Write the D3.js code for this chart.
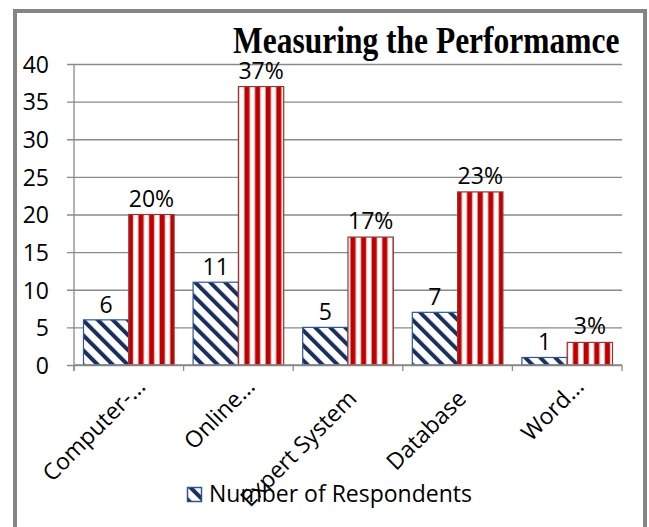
<!DOCTYPE html>
<html>
<head>
<meta charset="utf-8">
<script src="https://cdn.jsdelivr.net/npm/d3@7"></script>
<style>
  body { margin: 0; background: #fff; }
  svg { display: block; }
</style>
</head>
<body>
<script>
const chartTitle = "Measuring the Performamce";
const categories = ["Computer-...", "Online...", "Expert System", "Database", "Word..."];
const respondents = [6, 11, 5, 7, 1];
const percentages = [20, 37, 17, 23, 3];
const percentLabels = ["20%", "37%", "17%", "23%", "3%"];
const yTicks = [0, 5, 10, 15, 20, 25, 30, 35, 40];
const legendLabel = "Number of Respondents";

const w = 649;
const h = 527;
const plot = { left: 74, right: 622, top: 64, bottom: 365 };
const font = "'Open Sans', sans-serif";
const fs = 23;

const svg = d3.select("body").append("svg").attr("width", w).attr("height", h);

// fill patterns
const defs = svg.append("defs");
const blue = defs.append("pattern")
  .attr("id", "blueStripe")
  .attr("patternUnits", "userSpaceOnUse")
  .attr("width", 10.6).attr("height", 10.6)
  .attr("patternTransform", "rotate(-45)");
blue.append("rect").attr("width", 10.6).attr("height", 10.6).attr("fill", "#fff");
blue.append("rect").attr("x", 0).attr("width", 4).attr("height", 10.6).attr("fill", "#1b2f5e");

const red = defs.append("pattern")
  .attr("id", "redStripe")
  .attr("patternUnits", "userSpaceOnUse")
  .attr("width", 10.6).attr("height", 10);
red.append("rect").attr("width", 10.6).attr("height", 10).attr("fill", "#fff");
red.append("rect").attr("x", 0).attr("width", 6.4).attr("height", 10).attr("fill", "#f0b0b0");
red.append("rect").attr("x", 0.8).attr("width", 4.8).attr("height", 10).attr("fill", "#c00000");

// outer frame
svg.append("rect")
  .attr("x", 15).attr("y", 11)
  .attr("width", 630).attr("height", 540)
  .attr("fill", "#fff")
  .attr("stroke", "#858585")
  .attr("stroke-width", 4);

const x0 = d3.scaleBand().domain(categories).range([plot.left, plot.right]);
const x1 = d3.scaleBand().domain(["n", "p"]).range([9.5, x0.bandwidth() - 9.5]);
const y = d3.scaleLinear().domain([0, 40]).range([plot.bottom, plot.top]);

// gridlines (with the small tick left of the axis)
const grid = svg.append("g")
  .attr("transform", `translate(${plot.right},0)`)
  .call(d3.axisLeft(y).tickValues(yTicks).tickSize(plot.right - plot.left + 7).tickFormat(""));
grid.select(".domain").remove();
grid.selectAll("line").attr("stroke", "#8a8a8a").attr("stroke-width", 1.3);

// y labels
const yAxis = svg.append("g")
  .attr("transform", `translate(${plot.left},0)`)
  .call(d3.axisLeft(y).tickValues(yTicks).tickSize(0).tickPadding(25));
yAxis.select(".domain").remove();
yAxis.selectAll("text")
  .attr("font-family", font)
  .attr("font-size", fs)
  .attr("dy", "0.36em")
  .attr("fill", "#000");

// vertical axis line
svg.append("line")
  .attr("x1", plot.left).attr("x2", plot.left)
  .attr("y1", y(40)).attr("y2", plot.bottom + 6)
  .attr("stroke", "#8a8a8a").attr("stroke-width", 1.3);

// category tick marks
const bounds = categories.map((c) => x0(c)).concat([plot.right]);
svg.append("g").selectAll("line")
  .data(bounds)
  .enter().append("line")
  .attr("x1", (d) => d).attr("x2", (d) => d)
  .attr("y1", plot.bottom).attr("y2", plot.bottom + 6)
  .attr("stroke", "#8a8a8a").attr("stroke-width", 1.3);

// bars
const rows = categories.map((c, i) => ({ c, n: respondents[i], p: percentages[i], pl: percentLabels[i] }));

svg.append("g").selectAll("rect")
  .data(rows)
  .enter().append("rect")
  .attr("x", (d) => x0(d.c) + x1("n"))
  .attr("y", (d) => y(d.n))
  .attr("width", x1.bandwidth())
  .attr("height", (d) => y(0) - y(d.n))
  .attr("fill", "url(#blueStripe)")
  .attr("stroke", "#2f5597")
  .attr("stroke-width", 1.2);

svg.append("g").selectAll("rect")
  .data(rows)
  .enter().append("rect")
  .attr("x", (d) => x0(d.c) + x1("p"))
  .attr("y", (d) => y(d.p))
  .attr("width", x1.bandwidth())
  .attr("height", (d) => y(0) - y(d.p))
  .attr("fill", "url(#redStripe)")
  .attr("stroke", "#953735")
  .attr("stroke-width", 1.2);

// baseline
svg.append("line")
  .attr("x1", plot.left).attr("x2", plot.right)
  .attr("y1", plot.bottom).attr("y2", plot.bottom)
  .attr("stroke", "#8a8a8a").attr("stroke-width", 1.3);

// data labels
svg.append("g").selectAll("text")
  .data(rows)
  .enter().append("text")
  .attr("x", (d) => x0(d.c) + x1("n") + x1.bandwidth() / 2)
  .attr("y", (d) => y(d.n) - 7)
  .attr("text-anchor", "middle")
  .attr("font-family", font).attr("font-size", fs)
  .text((d) => d.n);

svg.append("g").selectAll("text")
  .data(rows)
  .enter().append("text")
  .attr("x", (d) => x0(d.c) + x1("p") + x1.bandwidth() / 2)
  .attr("y", (d) => y(d.p) - 8)
  .attr("text-anchor", "middle")
  .attr("font-family", font).attr("font-size", fs)
  .text((d) => d.pl);

// category labels, rotated
svg.append("g").selectAll("text")
  .data(categories)
  .enter().append("text")
  .attr("transform", (d) => {
    const cut = d.endsWith("...");
    const cx = x0(d) + x0.bandwidth() / 2 + (cut ? 18 : 10);
    return `translate(${cx},${cut ? 388 : 400}) rotate(-45)`;
  })
  .attr("text-anchor", "end")
  .attr("font-family", font).attr("font-size", fs)
  .text((d) => d);

// legend
svg.append("rect")
  .attr("x", 187.5).attr("y", 487.5)
  .attr("width", 14).attr("height", 14)
  .attr("fill", "url(#blueStripe)")
  .attr("stroke", "#2f5597").attr("stroke-width", 1.5);
svg.append("text")
  .attr("x", 209).attr("y", 502)
  .attr("font-family", font).attr("font-size", fs)
  .text(legendLabel);

// title
svg.append("text")
  .attr("transform", "translate(233,53) scale(1,1.2)")
  .attr("font-family", "'Liberation Serif', 'Times New Roman', serif")
  .attr("font-weight", "bold")
  .attr("font-size", 31.5)
  .text(chartTitle);
</script>
</body>
</html>
